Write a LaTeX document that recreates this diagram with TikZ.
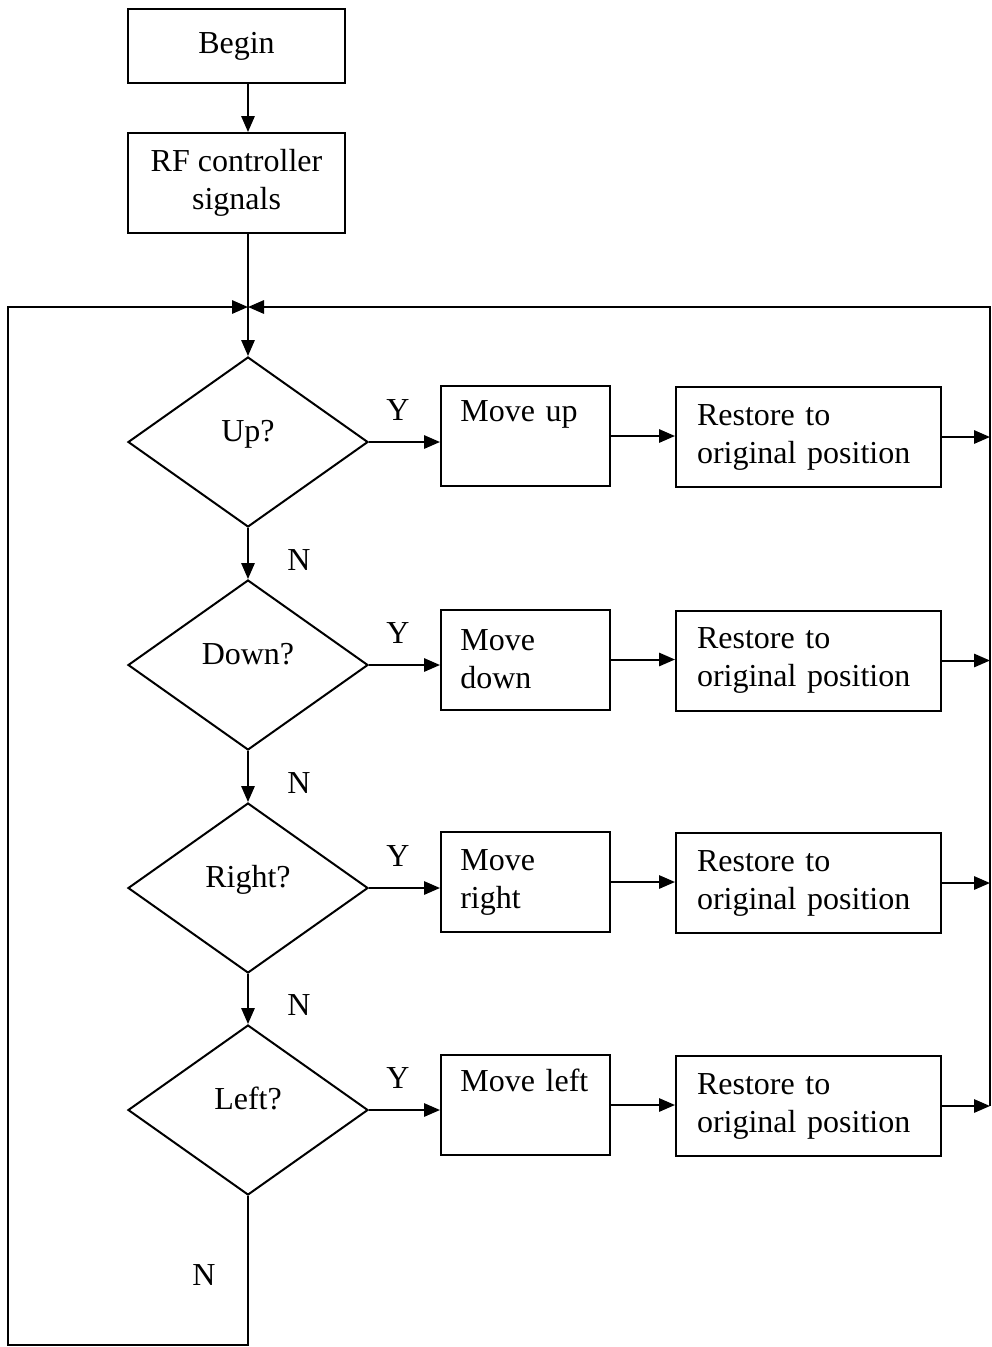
\documentclass[tikz,border=0pt]{standalone}
\usepackage{fontspec}
\setmainfont{Liberation Serif}
\usetikzlibrary{shapes.geometric,arrows.meta}

\tikzset{every picture/.style={line width=1.5pt}}
\tikzset{
  box/.style={draw,rectangle,inner xsep=15.75pt,inner ysep=0pt,minimum height=75pt,font=\fontsize{24}{28.5}\selectfont},
  movebox/.style={box,inner xsep=14.5pt,text width=97.75pt,align=left},
  restorebox/.style={box,text width=167.25pt,align=left},
  decision/.style={draw,diamond,inner sep=0pt,minimum width=180pt,minimum height=127.5pt,font=\fontsize{24}{28.5}\selectfont},
  yn/.style={inner sep=0pt,font=\fontsize{24}{28.5}\selectfont},
  arrow/.style={-{Triangle[length=12pt,width=10pt]}}
}

\begin{document}
\begin{tikzpicture}[x=0.75pt,y=0.75pt,yscale=-1,xscale=1]
\useasboundingbox (0,0) rectangle (992,1347);

% start
\node (begin) [box,minimum width=162.75pt,minimum height=55.5pt,align=center] at (236.5,46) {Begin};
\node (rf) [box,minimum width=162.75pt,align=center] at (236.5,183) {RF controller\\signals};

% decisions
\node (up) [decision] at (248,442) {\raisebox{17pt}{Up?}};
\node (down) [decision] at (248,665) {\raisebox{17pt}{Down?}};
\node (right) [decision] at (248,888) {\raisebox{17pt}{Right?}};
\node (left) [decision] at (248,1110) {\raisebox{17pt}{Left?}};

% actions
\node (mup) [movebox] at (525.5,436) {Move up\\\strut};
\node (mdown) [movebox] at (525.5,659.5) {Move\\down};
\node (mright) [movebox] at (525.5,882) {Move\\right};
\node (mleft) [movebox] at (525.5,1105) {Move left\\\strut};

\node (rup) [restorebox] at (808.5,437) {Restore to\\original position};
\node (rdown) [restorebox] at (808.5,660.5) {Restore to\\original position};
\node (rright) [restorebox] at (808.5,883) {Restore to\\original position};
\node (rleft) [restorebox] at (808.5,1106) {Restore to\\original position};

% corners of the loop
\coordinate (merge) at (248,307);
\coordinate (rail) at (990,307);
\coordinate (lb) at (8,1345);

% main line
\draw [arrow] (begin.south -| up) -- (rf.north -| up);
\draw [arrow] (rf.south -| up) -- (up.north);
\draw [arrow] (up.south) -- (down.north);
\draw [arrow] (down.south) -- (right.north);
\draw [arrow] (right.south) -- (left.north);

% yes branches
\draw [arrow] (up.east) -- (up.east -| mup.west);
\draw [arrow] (down.east) -- (down.east -| mdown.west);
\draw [arrow] (right.east) -- (right.east -| mright.west);
\draw [arrow] (left.east) -- (left.east -| mleft.west);

\draw [arrow] (mup.east) -- (mup.east -| rup.west);
\draw [arrow] (mdown.east) -- (mdown.east -| rdown.west);
\draw [arrow] (mright.east) -- (mright.east -| rright.west);
\draw [arrow] (mleft.east) -- (mleft.east -| rleft.west);

\draw [arrow] (rup.east) -- (rup.east -| rail);
\draw [arrow] (rdown.east) -- (rdown.east -| rail);
\draw [arrow] (rright.east) -- (rright.east -| rail);
\draw [arrow] (rleft.east) -- (rleft.east -| rail);

% return paths
\draw [arrow] (rleft.east -| rail) -- (rail) -- (merge);
\draw [arrow] (left.south) |- (lb) |- (merge);

% labels
\node (y1) [yn] at (398,410) {Y};
\node (y2) [yn] at (398,633) {Y};
\node (y3) [yn] at (398,856) {Y};
\node (y4) [yn] at (398,1078) {Y};
\node (n1) [yn] at (299,560) {N};
\node (n2) [yn] at (299,783) {N};
\node (n3) [yn] at (299,1005) {N};
\node (n4) [yn] at (204,1275) {N};

\end{tikzpicture}
\end{document}
